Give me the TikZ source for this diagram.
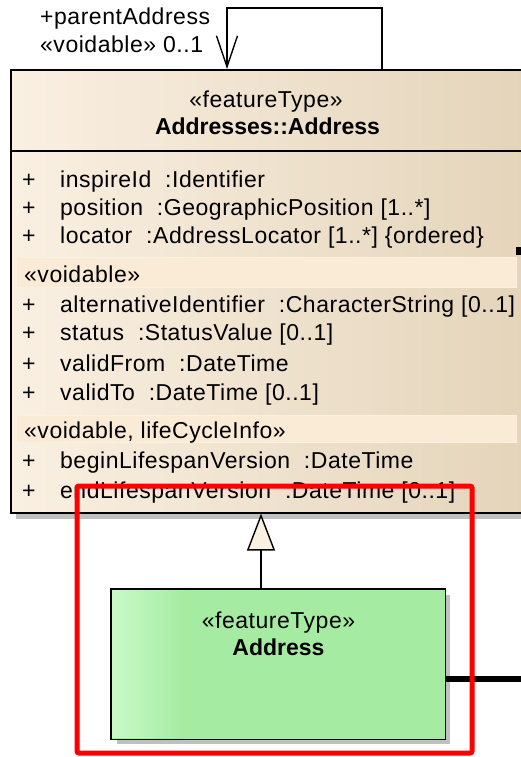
\documentclass[tikz,border=0pt]{standalone}
\usepackage{fontspec}
\setmainfont{Liberation Sans}
\newfontfamily\umlfont[LetterSpace=2.3]{Liberation Sans}
\usetikzlibrary{arrows.meta}

\definecolor{creamL}{RGB}{250,240,226}
\definecolor{tanR}{RGB}{228,212,186}
\definecolor{bandfill}{RGB}{250,235,214}
\definecolor{bandline}{RGB}{252,241,224}
\definecolor{greenL}{RGB}{200,250,200}
\definecolor{greenM}{RGB}{166,235,162}
\definecolor{shadowgray}{RGB}{192,192,192}
\definecolor{genfill}{RGB}{250,240,226}
\definecolor{markred}{RGB}{255,0,0}

\begin{document}
\begin{tikzpicture}[x=1pt,y=-1pt,
  every node/.style={font=\fontsize{23}{27}\selectfont\umlfont, inner sep=0pt},
  namefont/.style={font=\fontsize{23}{27}\selectfont\normalfont\bfseries},
  attr/.style={anchor=base west},
  classbox/.style={draw=black, line width=1.6pt, anchor=north west},
  shadowbox/.style={fill=shadowgray},
  band/.style={fill=bandfill, draw=bandline, line width=1pt},
  assoc/.style={line width=1.4pt, -{Straight Barb[length=31pt,width=21pt,line width=1.4pt]}},
  gen/.style={line width=1.4pt, -{Triangle[open, length=37pt, width=28pt, fill=genfill, line width=1.4pt]}},
  heavy/.style={line width=6.5pt},
  marker/.style={draw=markred, line width=5pt, rounded corners=2pt}]

\useasboundingbox (0,0) rectangle (521,757);
\clip (0,0) rectangle (521,757);

% ---- Addresses::Address (upper class) ----
\fill[shadowbox] (16,75) rectangle (532,519);
\node[classbox, left color=creamL, right color=tanR,
      minimum width=516pt, minimum height=443pt] (super) at (10,69) {};
\draw[line width=1.6pt] (super.west |- 0,151) -- (super.east |- 0,151);

\node[anchor=base] (st1) at (266,107) {«featureType»};
\node[anchor=base, namefont] (nm1) at (267.5,135) {Addresses::Address};

% attribute compartment
\node[attr] (p1) at (22,187) {+};
\node[attr] (a1) at (60,187) {inspireId\ \ :Identifier};
\node[attr] (p2) at (22,215) {+};
\node[attr] (a2) at (60,215) {position\ \ :GeographicPosition [1..*]};
\node[attr] (p3) at (22,243) {+};
\node[attr] (a3) at (60,243) {locator\ \ :AddressLocator [1..*] \{ordered\}};

\draw[band] (16,257) rectangle (516,287);
\node[attr] (s1) at (24,282) {«voidable»};
\node[attr] (p4) at (22,312) {+};
\node[attr] (a4) at (60,312) {alternativeIdentifier\ \ :CharacterString [0..1]};
\node[attr] (p5) at (22,340) {+};
\node[attr] (a5) at (60,340) {status\ \ :StatusValue [0..1]};
\node[attr] (p6) at (22,371) {+};
\node[attr] (a6) at (60,371) {validFrom\ \ :DateTime};
\node[attr] (p7) at (22,400) {+};
\node[attr] (a7) at (60,400) {validTo\ \ :DateTime [0..1]};

\draw[band] (16,415) rectangle (516,442);
\node[attr] (s2) at (24,438) {«voidable, lifeCycleInfo»};
\node[attr] (p8) at (22,468) {+};
\node[attr] (a8) at (60,468) {beginLifespanVersion\ \ :DateTime};
\node[attr] (p9) at (22,498) {+};
\node[attr] (a9) at (60,498) {endLifespanVersion\ \ :DateTime [0..1]};

% connector stub leaving the right side
\fill (516,247) rectangle (522,255);

% self association parentAddress
\draw[assoc] ([xshift=372pt]super.north west) -- ++(0,-61) -| ([xshift=217pt]super.north west);
\node[attr] (r1) at (40,25) {+parentAddress};
\node[attr] (r2) at (40,53) {«voidable» 0..1};

% ---- Address (lower class) ----
\fill[shadowbox] (117,595) rectangle (450,744);
\node[classbox, draw=none, fill=greenM, minimum width=333pt, minimum height=149pt] (sub) at (111,589) {};
\shade[left color=greenL, right color=greenM] (112,590) rectangle (183,737);
\draw[line width=1.5pt] (sub.north west) rectangle (sub.south east);
\node[anchor=base] (st2) at (278.5,628) {«featureType»};
\node[anchor=base, namefont] (nm2) at (278.5,655) {Address};

% generalization
\draw[gen] ([xshift=150pt]sub.north west) -- ([xshift=150pt]sub.north west |- super.south);

% thick association leaving to the right
\draw[heavy] (sub.east |- 0,679) -- (522,679);

% highlight frame
\draw[marker] (77,486) rectangle (472,753);
\end{tikzpicture}
\end{document}
